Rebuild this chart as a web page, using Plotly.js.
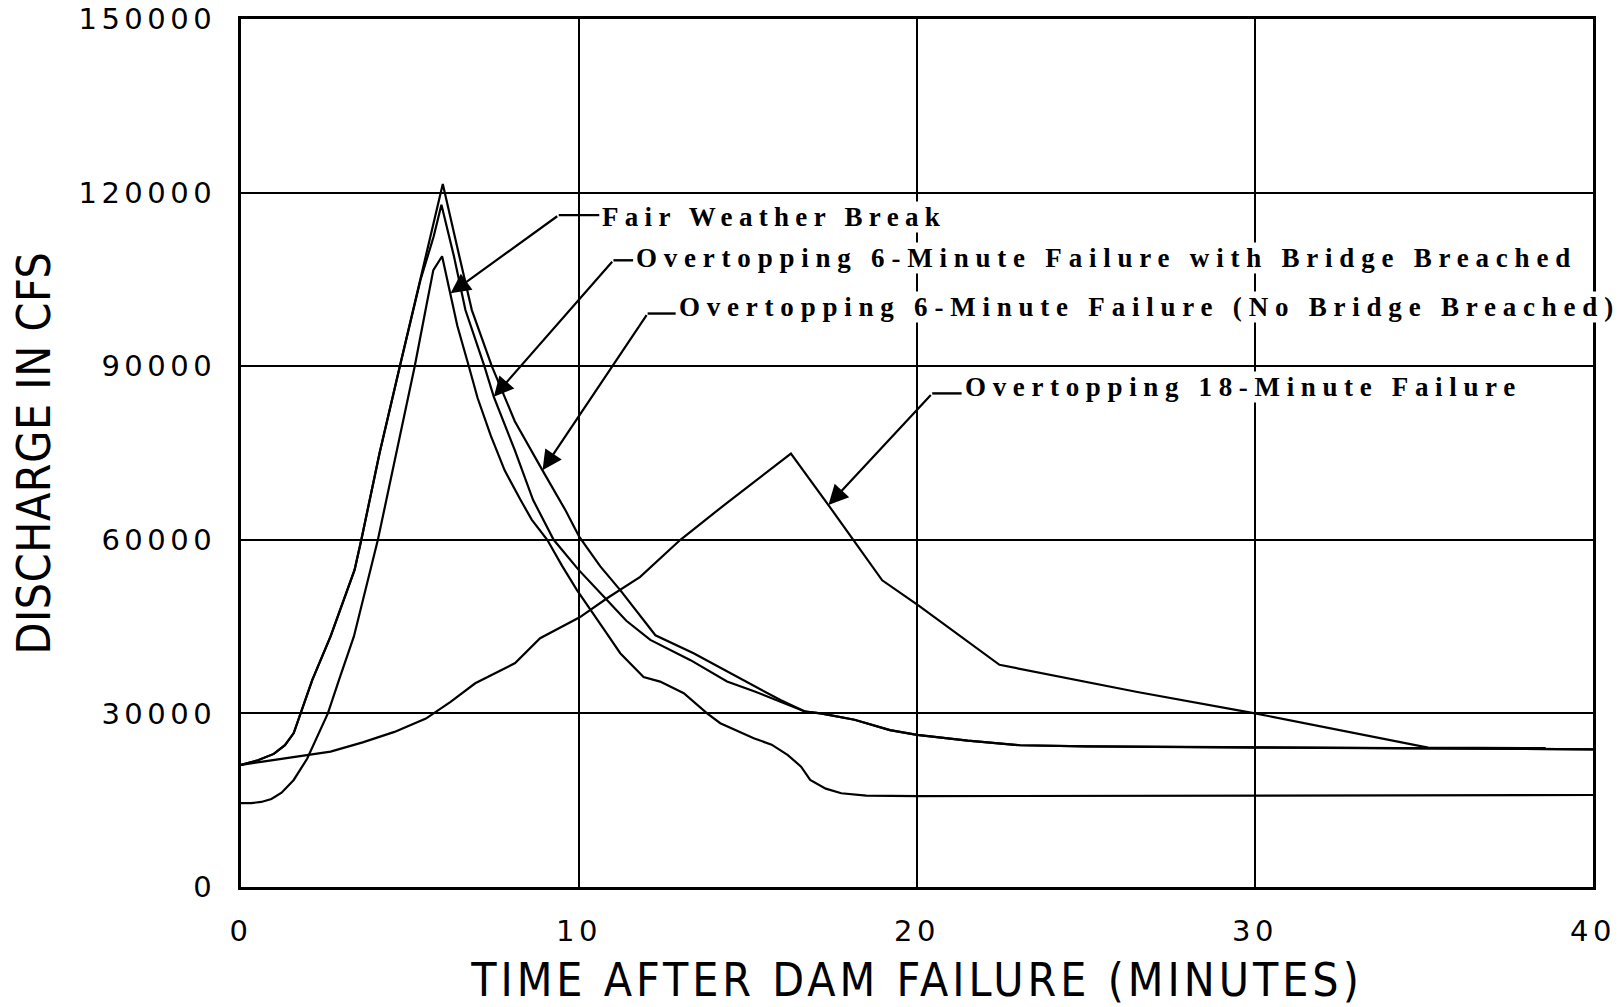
<!DOCTYPE html>
<html><head><meta charset="utf-8">
<script src="https://cdn.plot.ly/plotly-3.0.1.min.js"></script>
<style>
html,body{margin:0;padding:0;background:#fff;}
#chart{width:1624px;height:1007px;}
.xtick text,.ytick text{letter-spacing:4.5px;}
.g-xtitle text{letter-spacing:4px;}
.g-ytitle text{letter-spacing:0.6px;}
</style></head><body><div id="chart"></div>
<script>
// Time after dam failure (minutes) and discharge (cfs) for each scenario
const timeFair = [0, 0.3, 0.6, 0.9, 1.2, 1.56, 1.96, 2.35, 2.57, 2.9, 3.34, 4.05, 4.6, 5.14, 5.46, 5.69, 5.95, 6.2, 6.4, 6.74, 7.0, 7.39, 7.8, 8.26, 8.6, 9.06, 9.5, 9.94, 10.33, 10.8, 11.22, 11.91, 12.4, 13.1, 13.79, 14.18, 15.17, 15.7, 16.18, 16.57, 16.84, 17.3, 17.76, 18.5, 20, 30, 40];
const flowFair = [14500, 14500, 14700, 15200, 16300, 18500, 22200, 27100, 30000, 35800, 43300, 60000, 75000, 90000, 99700, 106600, 109000, 102600, 97000, 90000, 84500, 78000, 72000, 67000, 63500, 60000, 55500, 51300, 47900, 44000, 40400, 36300, 35500, 33500, 30000, 28300, 25700, 24600, 22800, 20800, 18500, 17000, 16200, 15800, 15700, 15800, 15900];

const timeBridge = [0, 0.5, 0.97, 1.3, 1.56, 1.76, 2.11, 2.65, 3.0, 3.36, 3.56, 4.1, 4.7, 5.31, 5.7, 5.93, 6.3, 6.64, 7.2, 7.48, 8.1, 8.64, 9.25, 9.99, 10.73, 11.4, 12.11, 13.3, 14.38, 15.2, 15.96, 16.7, 17.15, 18.15, 19.2, 20, 21.5, 23.05, 25, 30, 35, 40];
const flowBridge = [21100, 21900, 23000, 24500, 26600, 30000, 35800, 43300, 49000, 54800, 60000, 75000, 90000, 104900, 112400, 117900, 109000, 99700, 90000, 84700, 75500, 66900, 60000, 54800, 50200, 46000, 42700, 39200, 35500, 33800, 32000, 30300, 30000, 28900, 27100, 26300, 25300, 24500, 24300, 24100, 23900, 23800];

const timeNoBridge = [0, 0.5, 0.97, 1.3, 1.56, 1.76, 2.11, 2.65, 3.0, 3.36, 3.56, 4.1, 4.7, 5.31, 5.6, 5.97, 6.4, 6.83, 7.42, 8.1, 8.92, 9.6, 10.01, 10.63, 11.22, 12.26, 13.39, 14.77, 15.96, 16.7, 17.15, 18.15, 19.2, 20, 21.5, 23.05, 25, 30, 35, 40];
const flowNoBridge = [21100, 21900, 23000, 24500, 26600, 30000, 35800, 43300, 49000, 54800, 60000, 75000, 90000, 104900, 112400, 121500, 110500, 99700, 90000, 80500, 72000, 65100, 60500, 55400, 51300, 43500, 40400, 36100, 32300, 30300, 30000, 28900, 27100, 26300, 25300, 24500, 24300, 24100, 23900, 23800];

const time18 = [0, 1.3, 2.65, 3.6, 4.54, 5.47, 6.2, 6.93, 8.11, 8.85, 10.02, 10.83, 11.81, 13.0, 14.38, 16.27, 17.38, 18.97, 20.03, 22.44, 26.52, 30, 35.12, 38.6];
const flow18 = [21100, 22200, 23400, 25000, 26800, 29100, 32000, 35200, 38700, 43000, 46600, 49900, 53600, 60000, 66400, 74900, 66000, 53000, 48700, 38400, 33700, 30000, 24100, 24000];

const xTickVals = [0, 10, 20, 30, 40];
const xTickText = ['0', '10', '20', '30', '40'];
const yTickVals = [0, 30000, 60000, 90000, 120000, 150000];
const yTickText = ['0', '30000', '60000', '90000', '120000', '150000'];

// Callout labels: text, label anchor (time, flow), arrow tail corner, arrow tip on curve
const labelText = ['Fair Weather Break', 'Overtopping 6-Minute Failure with Bridge Breached', 'Overtopping 6-Minute Failure (No Bridge Breached)', 'Overtopping 18-Minute Failure'];
const labelTime = [10.66, 11.66, 12.92, 21.38];
const labelFlow = [115800, 108700, 100200, 86400];
const cornerTime = [9.40, 11.02, 12.03, 20.45];
const cornerFlow = [116100, 108300, 99100, 85300];
const tipTime = [6.20, 7.48, 8.92, 17.38];
const tipFlow = [102600, 84700, 72000, 66000];

// plotter-style lettering: every character takes the same cell width
const labelFontSize = 27;
const labelFamily = 'Liberation Serif';
const cellWidth = 19.2;
const measureCtx = document.createElement('canvas').getContext('2d');
measureCtx.font = 'bold ' + labelFontSize + 'px "' + labelFamily + '"';
function spaced(txt) {
  const w = measureCtx.measureText(txt).width;
  const ls = Math.max(0, (txt.length * cellWidth - w) / txt.length);
  return '<span style="letter-spacing:' + ls.toFixed(2) + 'px">' + txt + '</span>';
}

const lineStyle = {color: '#000', width: 2.2};
const traces = [
  {x: timeFair, y: flowFair, name: 'Fair Weather Break'},
  {x: timeBridge, y: flowBridge, name: 'Overtopping 6-Minute Failure with Bridge Breached'},
  {x: timeNoBridge, y: flowNoBridge, name: 'Overtopping 6-Minute Failure (No Bridge Breached)'},
  {x: time18, y: flow18, name: 'Overtopping 18-Minute Failure'}
].map(t => Object.assign(t, {type: 'scatter', mode: 'lines', line: lineStyle, hoverinfo: 'skip'}));

const annotations = [];
const shapes = [];
for (let i = 0; i < labelText.length; i++) {
  annotations.push({
    xref: 'x', yref: 'y', x: labelTime[i], y: labelFlow[i], text: spaced(labelText[i]),
    showarrow: false, xanchor: 'left', yanchor: 'middle', bgcolor: '#fff', borderpad: 0,
    font: {family: labelFamily + ', Times New Roman, serif', size: labelFontSize, color: '#000', weight: 'bold'}
  });
  annotations.push({
    xref: 'x', yref: 'y', x: tipTime[i], y: tipFlow[i], text: '',
    showarrow: true, axref: 'x', ayref: 'y', ax: cornerTime[i], ay: cornerFlow[i],
    arrowhead: 2, arrowsize: 1.8, arrowwidth: 2.2, arrowcolor: '#000', standoff: 0
  });
  shapes.push({
    type: 'line', xref: 'x', yref: 'y', x0: cornerTime[i], y0: cornerFlow[i],
    x1: labelTime[i] - 0.06, y1: cornerFlow[i], line: {color: '#000', width: 2.4}
  });
}

const layout = {
  width: 1624, height: 1007,
  margin: {l: 241, r: 31, t: 19, b: 120},
  paper_bgcolor: '#fff', plot_bgcolor: '#fff',
  showlegend: false,
  xaxis: {
    range: [0, 40], tickvals: xTickVals, ticktext: xTickText,
    showgrid: true, gridcolor: '#000', gridwidth: 2, zeroline: false,
    showline: true, mirror: true, linecolor: '#000', linewidth: 3, ticks: '',
    ticklabelstandoff: 16,
    tickfont: {family: 'DejaVu Sans, Verdana, sans-serif', size: 29, color: '#000'},
    title: {text: 'TIME AFTER DAM FAILURE (MINUTES)', standoff: 35,
      font: {family: 'Liberation Sans Narrow, DejaVu Sans Condensed, Liberation Sans, sans-serif', size: 46, color: '#000'}}
  },
  yaxis: {
    range: [0, 150000], tickvals: yTickVals, ticktext: yTickText,
    showgrid: true, gridcolor: '#000', gridwidth: 2, zeroline: false,
    showline: true, mirror: true, linecolor: '#000', linewidth: 3, ticks: '',
    ticklabelstandoff: 16,
    tickfont: {family: 'DejaVu Sans, Verdana, sans-serif', size: 29, color: '#000'},
    title: {text: 'DISCHARGE IN CFS\u00a0', standoff: 14,
      font: {family: 'Liberation Sans Narrow, DejaVu Sans Condensed, Liberation Sans, sans-serif', size: 46, color: '#000'}}
  },
  annotations: annotations,
  shapes: shapes
};

Plotly.newPlot('chart', traces, layout, {staticPlot: true, displayModeBar: false});
</script></body></html>
